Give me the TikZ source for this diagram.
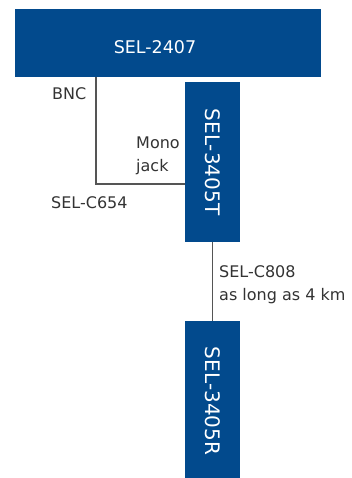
\documentclass[tikz,border=0pt]{standalone}
\usepackage{fontspec}
\setmainfont{DejaVu Sans}
\usepackage{tikz}
\definecolor{selblue}{HTML}{024A8D}
\definecolor{labelgray}{HTML}{333333}
\definecolor{cablegray}{HTML}{555555}

\begin{document}
\begin{tikzpicture}[
    x=1pt, y=-1pt,
    unit/.style={fill=selblue, inner sep=0pt, text=white},
    vunit/.style={unit, minimum width=55pt, minimum height=157pt},
    cable/.style={draw=cablegray, line width=1.4pt},
    lbl/.style={inner sep=0pt, text=labelgray, font=\fontsize{16}{23}\selectfont, align=left},
  ]
  \useasboundingbox (0,0) rectangle (351,478);
  % les trois appareils
  \node[unit, minimum width=306pt, minimum height=68pt] (relay) at (168,43) {};
  \node[inner sep=0pt, text=white, font=\fontsize{17.5}{20}\selectfont, anchor=base] (relaytxt) at (155,53.5) {SEL-2407};
  \node[vunit, minimum height=160pt] (tx) at (212.5,162) {};
  \node[rotate=-90, text=white, font=\fontsize{20}{22}\selectfont] (txtxt) at (212.5,162) {SEL-3405T};
  \node[vunit] (rx) at (212.5,399.5) {};
  \node[rotate=-90, text=white, font=\fontsize{20}{22}\selectfont] (rxtxt) at (212.5,401) {SEL-3405R};
  % les cables
  \coordinate (bnc) at (96,77);
  \coordinate (jack) at (185,184);
  \draw[cable] (bnc) |- (jack);
  \draw[cable] (tx.south) -- (rx.north);
  % les textes
  \node[lbl, anchor=base west] (bnclbl) at (52,100) {BNC};
  \node[lbl, anchor=north west] (jacklbl) at (136,136.3) {Mono\\jack};
  \node[lbl, anchor=base west] (c654) at (51,208) {SEL-C654};
  \node[lbl, anchor=north west] (c808) at (219,265.3) {SEL-C808\\as long as 4 km};
\end{tikzpicture}
\end{document}
